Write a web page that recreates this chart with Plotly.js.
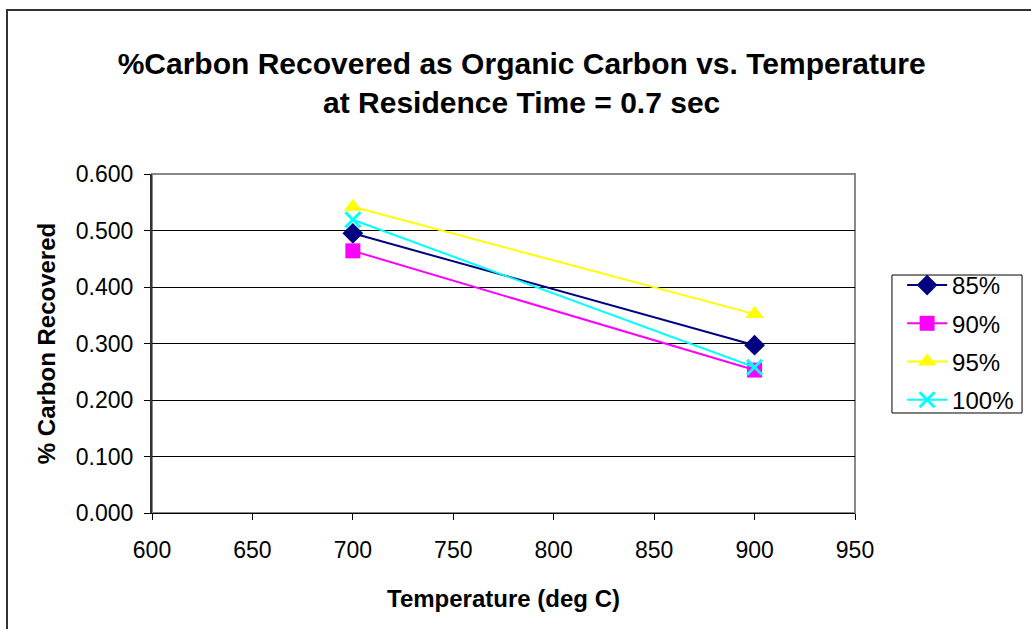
<!DOCTYPE html>
<html>
<head>
<meta charset="utf-8">
<script src="https://cdn.plot.ly/plotly-3.0.1.min.js"></script>
<style>
  html, body { margin: 0; padding: 0; background: #fff; }
  #wrap { position: relative; width: 1031px; height: 629px; overflow: hidden; }
  #chart { width: 1031px; height: 629px; }
  #frame { position: absolute; left: 6px; top: 9px; width: 1040px; height: 640px; border: 2px solid #333; box-sizing: border-box; pointer-events: none; }
</style>
</head>
<body>
<div id="wrap">
  <div id="chart"></div>
  <div id="frame"></div>
</div>
<script>
const temperatures = [700, 900];
const seriesNames = ["85%", "90%", "95%", "100%"];
const series85 = [0.495, 0.297];
const series90 = [0.464, 0.253];
const series95 = [0.542, 0.352];
const series100 = [0.519, 0.258];
const xTicks = [600, 650, 700, 750, 800, 850, 900, 950];
const yTicks = [0, 0.1, 0.2, 0.3, 0.4, 0.5, 0.6];

const styles = [
  {color: "#000080", symbol: "diamond", size: 16},
  {color: "#FF00FF", symbol: "square", size: 15},
  {color: "#FFFF00", symbol: "triangle-up", size: 16},
  {color: "#00FFFF", symbol: "x-thin-open", size: 15}
];
const values = [series85, series90, series95, series100];

const traces = values.map((v, i) => ({
  x: temperatures,
  y: v,
  name: seriesNames[i],
  legendgroup: "g" + i,
  type: "scatter",
  mode: "lines+markers",
  line: {color: styles[i].color, width: 2},
  marker: {
    color: styles[i].color,
    symbol: styles[i].symbol,
    size: styles[i].size,
    line: {color: styles[i].color, width: styles[i].symbol === "x-thin-open" ? 3 : 0}
  },
  cliponaxis: false
}));

const layout = {
  width: 1031,
  height: 629,
  margin: {l: 152, r: 176, t: 174, b: 116},
  paper_bgcolor: "#fff",
  plot_bgcolor: "#fff",
  font: {family: "Liberation Sans, Arial, sans-serif", color: "#000", size: 23},
  title: {
    text: "<b>%Carbon Recovered as Organic Carbon vs. Temperature<br>at Residence Time = 0.7 sec</b>",
    font: {size: 30, family: "Liberation Sans, Arial, sans-serif", color: "#000"},
    x: 0.506, xanchor: "center",
    y: 0.883, yanchor: "middle"
  },
  xaxis: {
    range: [600, 950],
    tickvals: xTicks,
    ticktext: xTicks.map(String),
    ticks: "outside", ticklen: 6, tickcolor: "#000", tickwidth: 1,
    ticklabelstandoff: 10,
    showline: true, linecolor: "#000", linewidth: 1,
    showgrid: false, zeroline: false,
    tickfont: {size: 23},
    title: {text: "<b>Temperature (deg C)</b>", font: {size: 24}, standoff: 28}
  },
  yaxis: {
    range: [0, 0.6],
    tickvals: yTicks,
    ticktext: yTicks.map(v => v.toFixed(3)),
    ticks: "outside", ticklen: 6, tickcolor: "#000", tickwidth: 1,
    ticklabelstandoff: 6,
    showline: true, linecolor: "#333", linewidth: 2,
    showgrid: true, gridcolor: "#000", gridwidth: 1,
    zeroline: false,
    tickfont: {size: 23},
    title: {text: "<b>% Carbon Recovered</b>", font: {size: 24}, standoff: 13}
  },
  shapes: [
    {type: "rect", xref: "paper", yref: "paper", x0: 0, x1: 1, y0: 0, y1: 1,
     line: {color: "#888", width: 2}, layer: "below"},
    {type: "rect", xref: "paper", yref: "paper", x0: 1.0526, x1: 1.2376, y0: 0.295, y1: 0.702,
     line: {color: "#000", width: 1}, fillcolor: "rgba(0,0,0,0)", layer: "below"}
  ],
  showlegend: true,
  legend: {
    x: 1.067, xanchor: "left",
    y: 0.7375, yanchor: "top",
    borderwidth: 0,
    bgcolor: "rgba(0,0,0,0)",
    font: {size: 24},
    traceorder: "grouped",
    tracegroupgap: 4,
    itemwidth: 40
  }
};

Plotly.newPlot("chart", traces, layout, {displayModeBar: false, staticPlot: true});
</script>
</body>
</html>
